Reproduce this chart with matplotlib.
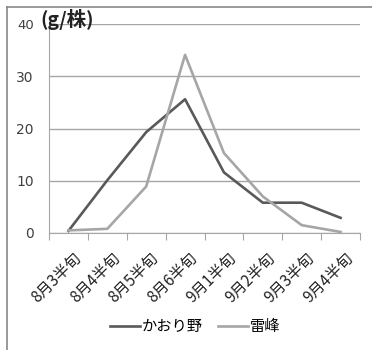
import matplotlib.pyplot as plt
import matplotlib.transforms as mtransforms
from matplotlib.lines import Line2D

plt.rcParams['font.family'] = ['Noto Sans CJK JP', 'DejaVu Sans']

periods = ['8月3半旬', '8月4半旬', '8月5半旬', '8月6半旬',
           '9月1半旬', '9月2半旬', '9月3半旬', '9月4半旬']
kaorino = [0.4, 10.1, 19.3, 25.6, 11.6, 5.8, 5.8, 2.9]
raiho = [0.5, 0.8, 8.9, 34.1, 15.3, 7.0, 1.5, 0.2]
yticks = [0, 10, 20, 30, 40]

fig = plt.figure(figsize=(3.72, 3.5), dpi=100)
ax = fig.add_axes([49/372, 1 - 233/350, 311/372, 209/350])

x = range(len(periods))
ax.plot(x, kaorino, color='#595959', lw=1.9, label='かおり野')
ax.plot(x, raiho, color='#a6a6a6', lw=1.9, label='雷峰')

ax.set_xlim(-0.5, len(periods) - 0.5)
ax.set_ylim(0, 40)
ax.set_yticks(yticks)
ax.set_yticklabels([str(v) for v in yticks], family='DejaVu Sans')
ax.yaxis.grid(True, color='#a6a6a6', lw=1)
ax.set_axisbelow(True)
for s in ['top', 'right']:
    ax.spines[s].set_visible(False)
ax.spines['left'].set_color('#a6a6a6')
ax.spines['bottom'].set_color('#a6a6a6')
ax.tick_params(axis='y', length=0, pad=11, labelsize=10, labelcolor='#404040')
ax.get_yticklabels()[-1].set_fontsize(9.5)

# category boundary ticks on the x axis
ax.set_xticks([i - 0.5 for i in range(len(periods) + 1)])
ax.set_xticklabels([])
ax.tick_params(axis='x', length=5, color='#a6a6a6')
ax.set_xticks(list(x), minor=True)
ax.set_xticklabels(periods, minor=True, rotation=45, ha='right',
                   rotation_mode='anchor', fontsize=11, color='#222222')
ax.tick_params(axis='x', which='minor', length=0, pad=12)
shift = mtransforms.ScaledTranslation(4/100, 0, fig.dpi_scale_trans)
for lbl in ax.get_xticklabels(minor=True):
    lbl.set_transform(lbl.get_transform() + shift)

fig.text(40/372, 1 - 20/350, '(g/株)', fontsize=14, fontweight='bold',
         va='center', ha='left', color='#222222')

fig.legend(loc='center', bbox_to_anchor=(195/372, 1 - 327/350), ncol=2,
           frameon=False, fontsize=11, handlelength=2.0, handletextpad=0.1,
           columnspacing=1.0)

# outer chart border (top and left edges)
fig.add_artist(Line2D([7/372, 1], [1 - 7/350, 1 - 7/350], color='#888888', lw=1.2))
fig.add_artist(Line2D([7/372, 7/372], [0, 1 - 7/350], color='#888888', lw=1.2))

fig.savefig('out.png', dpi=100)
